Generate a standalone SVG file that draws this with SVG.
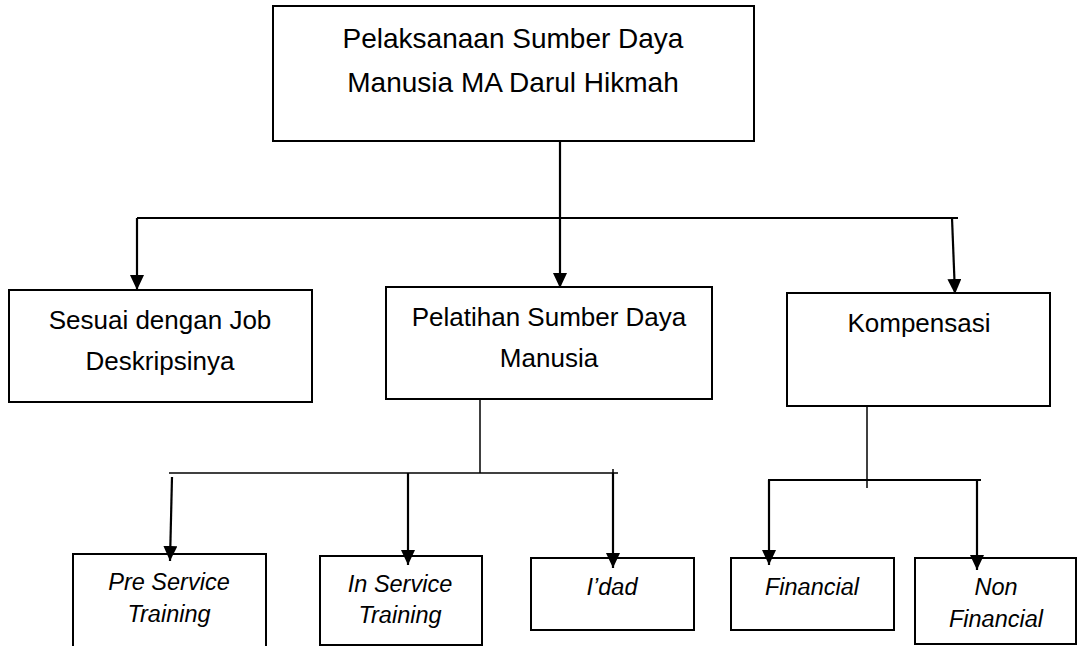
<svg xmlns="http://www.w3.org/2000/svg" width="1078" height="646" viewBox="0 0 1078 646">
<style>
.box{fill:#fff;stroke:#000;stroke-width:2}
.t{font-family:"Liberation Sans",Arial,sans-serif;fill:#000;text-anchor:middle}
.t1{font-size:28px}
.t2{font-size:26px}
.t3{font-size:23.5px;font-style:italic}
.ln{fill:none;stroke:#000;stroke-width:2.2}
.thin{fill:none;stroke:#000;stroke-width:1.5}
</style>
<defs>
<marker id="ah" viewBox="0 0 15 14" refX="15" refY="7" markerWidth="15" markerHeight="14" markerUnits="userSpaceOnUse" orient="auto">
<path d="M0,0 L15,7 L0,14 Z" fill="#000"/>
</marker>
</defs>
<rect width="1078" height="646" fill="#fff"/>
<g id="n-root">
<rect class="box" x="273" y="6" width="481" height="135"/>
<text class="t t1" x="513" y="48">Pelaksanaan Sumber Daya</text>
<text class="t t1" x="513" y="92">Manusia MA Darul Hikmah</text>
</g>
<g id="n-sesuai">
<rect class="box" x="9" y="290" width="303" height="112"/>
<text class="t t2" x="160" y="329">Sesuai dengan Job</text>
<text class="t t2" x="160" y="370">Deskripsinya</text>
</g>
<g id="n-pelatihan">
<rect class="box" x="386" y="287" width="326" height="112"/>
<text class="t t2" x="549" y="326">Pelatihan Sumber Daya</text>
<text class="t t2" x="549" y="367">Manusia</text>
</g>
<g id="n-kompensasi">
<rect class="box" x="787" y="293" width="263" height="113"/>
<text class="t t2" x="919" y="332">Kompensasi</text>
</g>
<g id="n-pre">
<rect class="box" x="73" y="554" width="193" height="100"/>
<text class="t t3" x="169" y="590">Pre Service</text>
<text class="t t3" x="169" y="622">Training</text>
</g>
<g id="n-in">
<rect class="box" x="320" y="556" width="162" height="89"/>
<text class="t t3" x="400" y="592">In Service</text>
<text class="t t3" x="400" y="623">Training</text>
</g>
<g id="n-idad">
<rect class="box" x="531" y="558" width="163" height="72"/>
<text class="t t3" x="612" y="595">I’dad</text>
</g>
<g id="n-financial">
<rect class="box" x="731" y="558" width="163" height="72"/>
<text class="t t3" x="812" y="595">Financial</text>
</g>
<g id="n-nonfinancial">
<rect class="box" x="915" y="558" width="161" height="86"/>
<text class="t t3" x="996" y="595">Non</text>
<text class="t t3" x="996" y="627">Financial</text>
</g>
<g id="connectors">
<path class="ln" d="M560,141 V218"/>
<path class="ln" d="M137,218 H958"/>
<path class="ln" d="M137,218 V290" marker-end="url(#ah)"/>
<path class="ln" d="M560,218 V288" marker-end="url(#ah)"/>
<path class="ln" d="M952,218 L955,294" marker-end="url(#ah)"/>
<path class="thin" d="M480,399 V473"/>
<path class="thin" d="M169,473 H618"/>
<path class="thin" d="M613,469 V473"/>
<path class="ln" d="M172,477 L170,561" marker-end="url(#ah)"/>
<path class="ln" d="M408,473 V565" marker-end="url(#ah)"/>
<path class="ln" d="M613,473 V568" marker-end="url(#ah)"/>
<path class="thin" d="M867,406 V488"/>
<path class="ln" d="M768,480 H981"/>
<path class="ln" d="M769,480 V565" marker-end="url(#ah)"/>
<path class="ln" d="M977,480 V570" marker-end="url(#ah)"/>
</g>
</svg>
